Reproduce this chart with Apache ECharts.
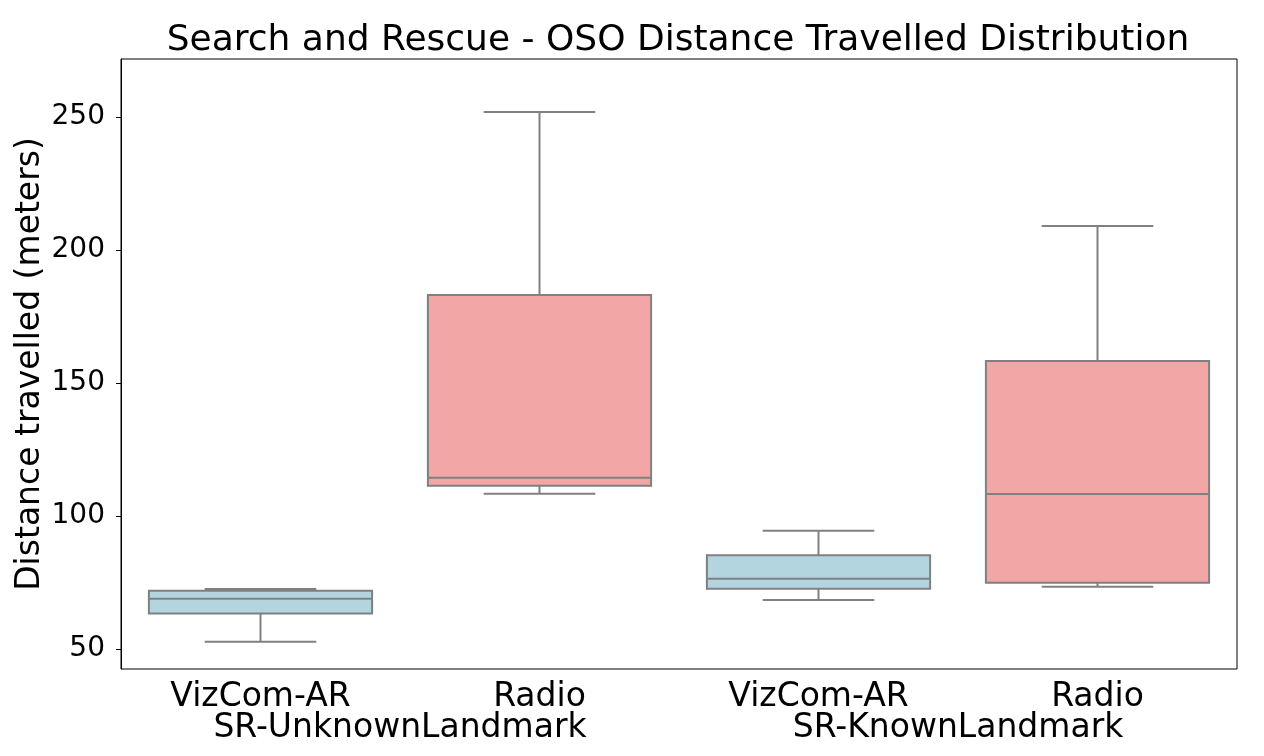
<!DOCTYPE html>
<html>
<head>
<meta charset="utf-8">
<script src="https://cdn.jsdelivr.net/npm/echarts@6/dist/echarts.min.js"></script>
<style>
  html, body { margin: 0; padding: 0; background: #fff; }
  #box { width: 1264px; height: 756px; }
</style>
</head>
<body>
<div id="box"></div>
<script>
// categories and groups
var categories = ['VizCom-AR', 'Radio', 'VizCom-AR', 'Radio'];
var groups = ['SR-UnknownLandmark', 'SR-KnownLandmark'];
var yTicks = [50, 100, 150, 200, 250];

// box stats: low whisker, q1, median, q3, high whisker
var lowWhisker = [52.7, 108.4, 68.4, 73.4];
var q1 = [63.4, 111.4, 72.7, 74.9];
var median = [68.9, 114.4, 76.4, 108.3];
var q3 = [71.9, 183.1, 85.3, 158.3];
var highWhisker = [72.6, 251.9, 94.5, 209.0];

var fills = ['#b3d5e0', '#f2a6a6', '#b3d5e0', '#f2a6a6'];
var edge = '#808080';
var font = 'DejaVu Sans';

var data = [];
for (var i = 0; i < categories.length; i++) {
    data.push([i, lowWhisker[i], q1[i], median[i], q3[i], highWhisker[i]]);
}

function renderItem(params, api) {
    var x = api.value(0);
    var pLow = api.coord([x, api.value(1)]);
    var pQ1 = api.coord([x, api.value(2)]);
    var pMed = api.coord([x, api.value(3)]);
    var pQ3 = api.coord([x, api.value(4)]);
    var pHigh = api.coord([x, api.value(5)]);
    var bw = api.size([1, 0])[0] * 0.8;
    var cw = bw / 4;
    var cx = pMed[0];
    var st = { stroke: edge, lineWidth: 2 };
    return {
        type: 'group',
        children: [
            { type: 'line', shape: { x1: cx, y1: pQ1[1], x2: cx, y2: pLow[1] }, style: st },
            { type: 'line', shape: { x1: cx, y1: pQ3[1], x2: cx, y2: pHigh[1] }, style: st },
            { type: 'line', shape: { x1: cx - cw, y1: pLow[1], x2: cx + cw, y2: pLow[1] }, style: st },
            { type: 'line', shape: { x1: cx - cw, y1: pHigh[1], x2: cx + cw, y2: pHigh[1] }, style: st },
            { type: 'rect', shape: { x: cx - bw / 2, y: pQ3[1], width: bw, height: pQ1[1] - pQ3[1] },
              style: { fill: fills[params.dataIndex], stroke: edge, lineWidth: 2 } },
            { type: 'line', shape: { x1: cx - bw / 2, y1: pMed[1], x2: cx + bw / 2, y2: pMed[1] }, style: st }
        ]
    };
}

var myChart = echarts.init(document.getElementById('box'));
var option = {
    animation: false,
    backgroundColor: '#fff',
    title: {
        text: 'Search and Rescue - OSO Distance Travelled Distribution',
        left: 673,
        top: 18,
        textAlign: 'center',
        textStyle: { fontFamily: font, fontSize: 36, fontWeight: 'normal', color: '#000' }
    },
    grid: {
        left: 121, right: 27, top: 59, bottom: 87,
        show: true, borderColor: '#000', borderWidth: 1, backgroundColor: '#fff'
    },
    xAxis: [{
        type: 'category',
        data: categories,
        axisLine: { show: false },
        axisTick: { show: false },
        axisLabel: { fontFamily: font, fontSize: 33, color: '#000', margin: 12 }
    }, {
        type: 'category',
        data: groups,
        position: 'bottom',
        offset: 31,
        axisLine: { show: false },
        axisTick: { show: false },
        axisLabel: { fontFamily: font, fontSize: 33, color: '#000', margin: 12 }
    }],
    yAxis: {
        type: 'value',
        min: 42.5,
        max: 271.8,
        name: 'Distance travelled (meters)',
        nameLocation: 'middle',
        nameGap: 74,
        nameMoveOverlap: false,
        nameTextStyle: { fontFamily: font, fontSize: 33, color: '#000' },
        splitLine: { show: false },
        axisLine: { show: true, lineStyle: { color: '#000', width: 1 } },
        axisTick: { show: true, length: 5, lineStyle: { color: '#000' }, customValues: yTicks },
        axisLabel: { fontFamily: font, fontSize: 28, color: '#000', margin: 16, customValues: yTicks }
    },
    series: [{
        type: 'custom',
        renderItem: renderItem,
        xAxisIndex: 0,
        encode: { x: 0, y: [1, 2, 3, 4, 5] },
        data: data
    }]
};
myChart.setOption(option);
</script>
</body>
</html>
